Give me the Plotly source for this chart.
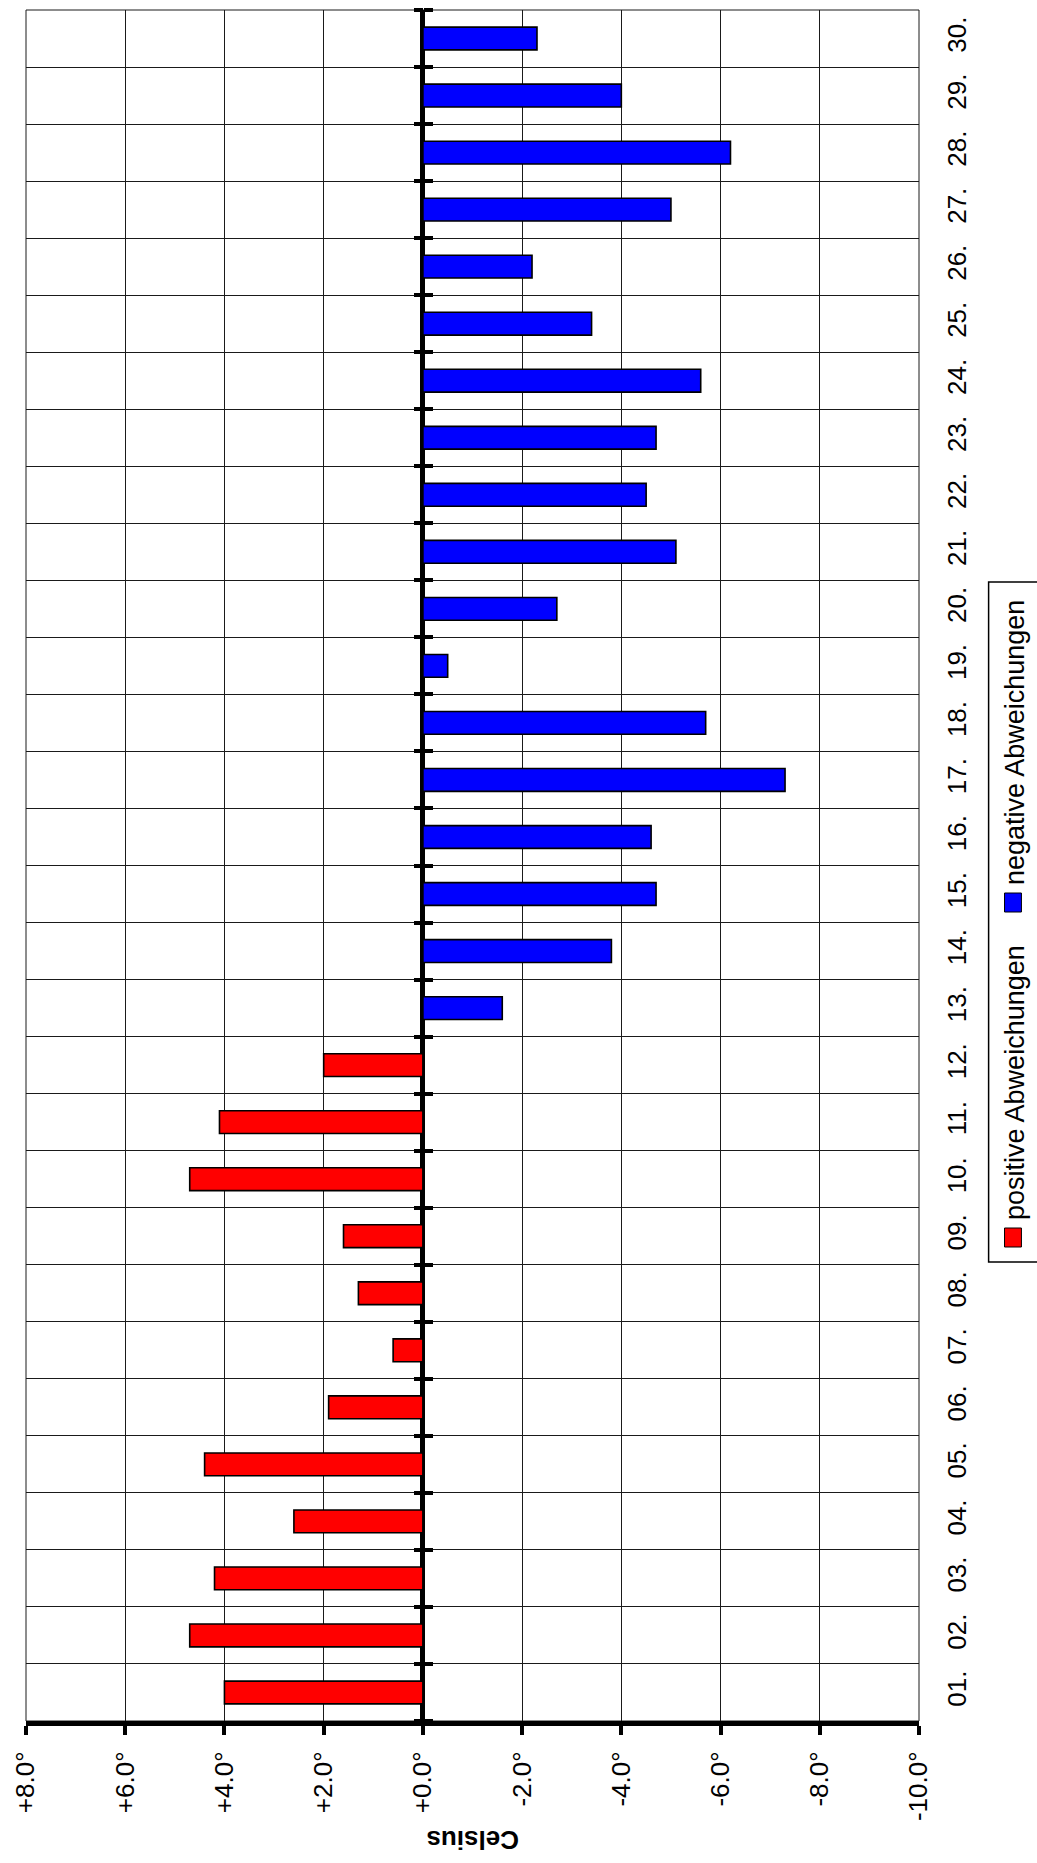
import plotly.graph_objects as go

# ---------------- data ----------------
days = ["01.", "02.", "03.", "04.", "05.", "06.", "07.", "08.", "09.", "10.",
        "11.", "12.", "13.", "14.", "15.", "16.", "17.", "18.", "19.", "20.",
        "21.", "22.", "23.", "24.", "25.", "26.", "27.", "28.", "29.", "30."]

positive_dev = [4.0, 4.7, 4.2, 2.6, 4.4, 1.9, 0.6, 1.3, 1.6, 4.7, 4.1, 2.0,
                None, None, None, None, None, None, None, None, None, None,
                None, None, None, None, None, None, None, None]

negative_dev = [None, None, None, None, None, None, None, None, None, None,
                None, None, -1.6, -3.8, -4.7, -4.6, -7.3, -5.7, -0.5, -2.7,
                -5.1, -4.5, -4.7, -5.6, -3.4, -2.2, -5.0, -6.2, -4.0, -2.3]

x_tickvals = [8, 6, 4, 2, 0, -2, -4, -6, -8, -10]
x_ticktext = ["+8.0°", "+6.0°", "+4.0°", "+2.0°", "+0.0°",
              "-2.0°", "-4.0°", "-6.0°", "-8.0°", "-10.0°"]

series_names = ["positive Abweichungen", "negative Abweichungen"]
series_colors = ["#FF0000", "#0000FF"]
axis_title = "Celsius"

# ---------------- layout geometry (pixels) ----------------
W, H = 1037, 1863
L, R, T, B = 21, 118, 10, 142
PW, PH = W - L - R, H - T - B
X_MIN, X_MAX = 8, -10
FONT = "Liberation Sans, Arial, sans-serif"


def px_x(p):
    return (p - L) / PW


def px_y(p):
    return (H - B - p) / PH


zero_pos = (X_MIN - 0) / (X_MIN - X_MAX)

fig = go.Figure()
for vals, name, col in zip([positive_dev, negative_dev], series_names, series_colors):
    fig.add_trace(go.Bar(
        x=vals, y=days, orientation="h", name=name, width=0.4,
        marker=dict(color=col, line=dict(color="black", width=1.6)),
        showlegend=False, hoverinfo="x+y"))

# helper (invisible) traces so the zero-line tick axes get drawn
for ax in ["y2", "y3"]:
    fig.add_trace(go.Bar(x=positive_dev, y=days, orientation="h", yaxis=ax,
                         opacity=0, hoverinfo="skip", showlegend=False, width=0.4))

tick_axis = dict(type="category", categoryorder="array", categoryarray=days,
                 range=[-0.5, len(days) - 0.5], overlaying="y", anchor="free",
                 position=zero_pos, tickson="boundaries", ticks="outside",
                 ticklen=9, tickwidth=4, tickcolor="black", showticklabels=False,
                 showgrid=False, showline=False, zeroline=False, fixedrange=True)

fig.update_layout(
    width=W, height=H,
    margin=dict(l=L, r=R, t=T, b=B, pad=0),
    paper_bgcolor="white", plot_bgcolor="white",
    barmode="overlay",
    font=dict(family=FONT, size=26, color="black"),
    xaxis=dict(range=[X_MIN, X_MAX], autorange=False, domain=[0, 1],
               tickmode="array", tickvals=x_tickvals, ticktext=x_ticktext,
               tickangle=-90, ticks="outside", ticklen=9, tickwidth=4,
               tickcolor="black", showline=True, linecolor="black", linewidth=5,
               showgrid=True, gridcolor="#1a1a1a", gridwidth=1,
               zeroline=True, zerolinecolor="black", zerolinewidth=5,
               tickfont=dict(size=26), ticklabelstandoff=6, fixedrange=True),
    yaxis=dict(type="category", categoryorder="array", categoryarray=days,
               range=[-0.5, len(days) - 0.5], side="right", tickson="boundaries",
               showgrid=True, gridcolor="#1a1a1a", gridwidth=1, ticks="",
               tickangle=-90, tickfont=dict(size=26), showline=False,
               zeroline=False, ticklabelstandoff=20, fixedrange=True),
    yaxis2=dict(tick_axis, side="left"),
    yaxis3=dict(tick_axis, side="right"),
)

# plot border
fig.add_shape(type="rect", xref="paper", yref="paper", x0=0, x1=1, y0=0, y1=1,
              line=dict(color="#1a1a1a", width=1), fillcolor="rgba(0,0,0,0)", layer="below")

# legend box (rotated legend)
fig.add_shape(type="rect", xref="paper", yref="paper",
              x0=px_x(989), x1=px_x(1045), y0=px_y(1262), y1=px_y(582),
              line=dict(color="black", width=1.5), fillcolor="white")
legend_sq_y = [(1228, 1247), (893, 912)]
legend_txt_bottom = [1222, 887]
for (y0, y1), tb, name, col in zip(legend_sq_y, legend_txt_bottom, series_names, series_colors):
    fig.add_shape(type="rect", xref="paper", yref="paper",
                  x0=px_x(1005), x1=px_x(1022), y0=px_y(y1), y1=px_y(y0),
                  line=dict(color="black", width=1), fillcolor=col)
    fig.add_annotation(text=name, xref="paper", yref="paper",
                       x=px_x(1015), y=px_y(tb), xanchor="center", yanchor="bottom",
                       textangle=-90, showarrow=False, font=dict(size=27))

fig.add_annotation(text="<b>" + axis_title + "</b>", xref="paper", yref="paper",
                   x=0.5, y=px_y(1840), xanchor="center", yanchor="middle",
                   textangle=180, showarrow=False, font=dict(size=26))

fig.write_html("out.html", config={"displayModeBar": False},
               post_script="document.body.style.margin='0px';")
